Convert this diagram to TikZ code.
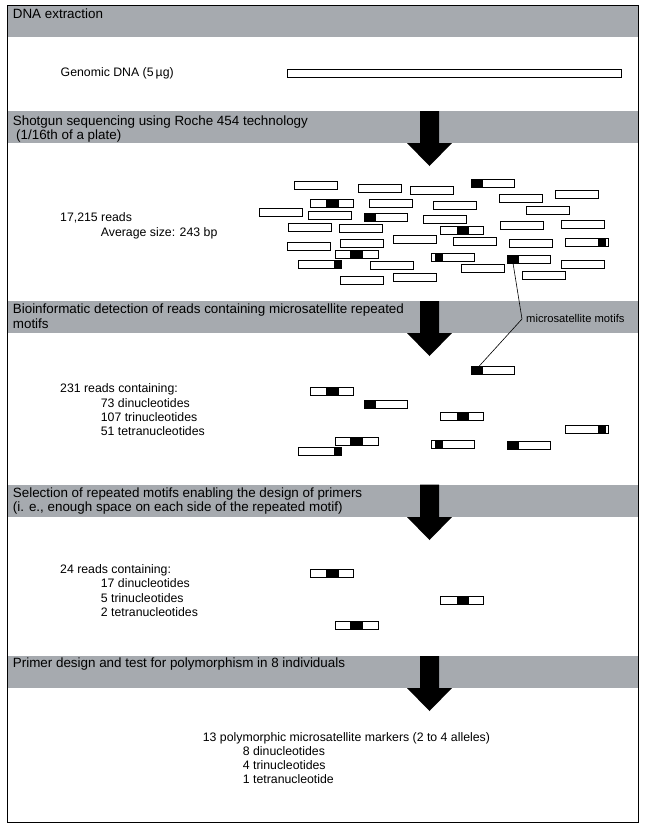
\documentclass[tikz,border=0pt]{standalone}
\usepackage{fontspec}
\setmainfont{Liberation Sans}
\definecolor{bandgray}{RGB}{166,170,175}
\tikzset{
  readbox/.style={draw=black, line width=0.8pt, fill=white, minimum width=43pt, minimum height=8pt, inner sep=0pt, outer sep=0pt, anchor=north west},
  motif/.style={fill=black, minimum height=8pt, inner sep=0pt, outer sep=0pt, anchor=north west},
  hdr/.style={font=\fontsize{13.4}{16}\selectfont, anchor=base west, inner sep=0pt},
  body/.style={font=\fontsize{12.3}{14}\selectfont, anchor=base west, inner sep=0pt},
  lbl/.style={font=\fontsize{11.2}{13}\selectfont, anchor=base west, inner sep=0pt},
  band/.style={fill=bandgray},
  bigarrow/.style={fill=black},
  conn/.style={draw=black, line width=0.6pt},
  frame/.style={draw=black, line width=0.9pt},
}
\newcommand\readat[3]{\node[readbox] (#1) at (#2,#3) {};}
\newcommand\readmot[5]{\node[readbox] (#1) at (#2,#3) {};
  \node[motif, minimum width=#5pt] (#1m) at ([xshift=#4pt]#1.north west) {};}
\newcommand\bigdown[2]{\fill[bigarrow] (420,#1) -- (439,#1) -- (439,#2) -- (452,#2) -- (429.5,{#2+23}) -- (407,#2) -- (420,#2) -- cycle;}
\begin{document}
\begin{tikzpicture}[x=1pt,y=-1pt]
\useasboundingbox (0,0) rectangle (651,828);
% bands
\fill[band] (7.3,5.5) rectangle (638,37);
\fill[band] (7.3,111) rectangle (638,143);
\fill[band] (7.3,301) rectangle (638,333);
\fill[band] (7.3,484.5) rectangle (638,517);
\fill[band] (7.3,656) rectangle (638,688);
% frame
\draw[frame] (7.3,5.5) rectangle (638,822);
% headers
\node[hdr] (h1) at (12.7,18) {DNA extraction};
\node[hdr] (h2a) at (12.7,125) {Shotgun sequencing using Roche 454 technology};
\node[hdr] (h2b) at (16,139.5) {(1/16th of a plate)};
\node[hdr] (h3a) at (12.7,313.5) {Bioinformatic detection of reads containing microsatellite repeated};
\node[hdr] (h3b) at (12.7,328) {motifs};
\node[hdr] (h4a) at (12.7,497) {Selection of repeated motifs enabling the design of primers};
\node[hdr] (h4b) at (12.7,511) {(i. e., enough space on each side of the repeated motif)};
\node[hdr] (h5) at (12.7,667.5) {Primer design and test for polymorphism in 8 individuals};
% arrows
\bigdown{111}{143}
\bigdown{301}{333}
\bigdown{484.5}{517}
\bigdown{656}{688}
% section 1
\node[body] (t1) at (60.5,76.5) {Genomic DNA (5\,µg)};
\node[draw=black, line width=0.8pt, minimum width=334pt, minimum height=8pt, inner sep=0pt, anchor=north west] (gdna) at (287,69) {};
% section 2
\node[body] (t2a) at (60,221.5) {17,215 reads};
\node[body] (t2b) at (100.7,236.5) {Average size: 243 bp};
\readat{r1}{294}{181}
\readat{r2}{358}{184}
\readat{r3}{410}{186}
\readmot{r4}{471}{179}{0}{12}
\readat{r5}{499}{194}
\readat{r6}{555}{190}
\readmot{r7}{310}{199}{16}{13}
\readat{r8}{369}{199}
\readat{r9}{433}{201}
\readat{r10}{526}{206}
\readat{r11}{259}{208}
\readat{r12}{308}{211}
\readmot{r13}{364}{213}{0}{12}
\readat{r14}{423}{215}
\readat{r15}{288}{223}
\readat{r16}{339}{224}
\readmot{r17}{440}{226}{17}{12}
\readat{r18}{500}{221}
\readat{r19}{561}{220}
\readat{r20}{393}{235}
\readat{r21}{453}{237}
\readat{r22}{287}{242}
\readat{r23}{340}{239}
\readat{r24}{509}{239}
\readmot{r25}{565}{238}{33}{8}
\readmot{r26}{335}{250}{15}{13}
\readmot{r27}{431}{253}{4}{8}
\readmot{r28}{507}{255}{0}{12}
\readmot{r29}{298}{260}{36}{7}
\readat{r30}{370}{261}
\readat{r31}{461}{264}
\readat{r32}{561}{260}
\readat{r33}{522}{271}
\readat{r34}{340}{276}
\readat{r35}{393}{273}
% section 3
\node[body] (t3a) at (60,392.7) {231 reads containing:};
\node[body] (t3b) at (100.7,407) {73 dinucleotides};
\node[body] (t3c) at (100.7,421.3) {107 trinucleotides};
\node[body] (t3d) at (100.7,435.7) {51 tetranucleotides};
\readmot{s4}{471}{366}{0}{12}
\readmot{s7}{310}{387}{16}{13}
\readmot{s13}{364}{400}{0}{12}
\readmot{s17}{440}{412}{17}{12}
\readmot{s25}{565}{425}{33}{8}
\readmot{s26}{335}{437}{15}{13}
\readmot{s27}{431}{440}{4}{8}
\readmot{s28}{507}{441}{0}{12}
\readmot{s29}{298}{447}{36}{7}
% label and connector
\node[lbl] (lab) at (526,322.5) {microsatellite motifs};
\coordinate (bend) at (522,319);
\draw[conn] (r28m.south) -- (bend) -- (s4m.60);
% section 4
\node[body] (t4a) at (60,573.3) {24 reads containing:};
\node[body] (t4b) at (100.7,587.5) {17 dinucleotides};
\node[body] (t4c) at (100.7,602) {5 trinucleotides};
\node[body] (t4d) at (100.7,616.5) {2 tetranucleotides};
\readmot{u1}{310}{569}{16}{13}
\readmot{u2}{440}{596}{17}{12}
\readmot{u3}{335}{621}{15}{13}
% section 5
\node[body] (t5a) at (202.7,741.5) {13 polymorphic microsatellite markers (2 to 4 alleles)};
\node[body] (t5b) at (242.7,755.3) {8 dinucleotides};
\node[body] (t5c) at (242.7,769.3) {4 trinucleotides};
\node[body] (t5d) at (242.7,783) {1 tetranucleotide};
\end{tikzpicture}
\end{document}
